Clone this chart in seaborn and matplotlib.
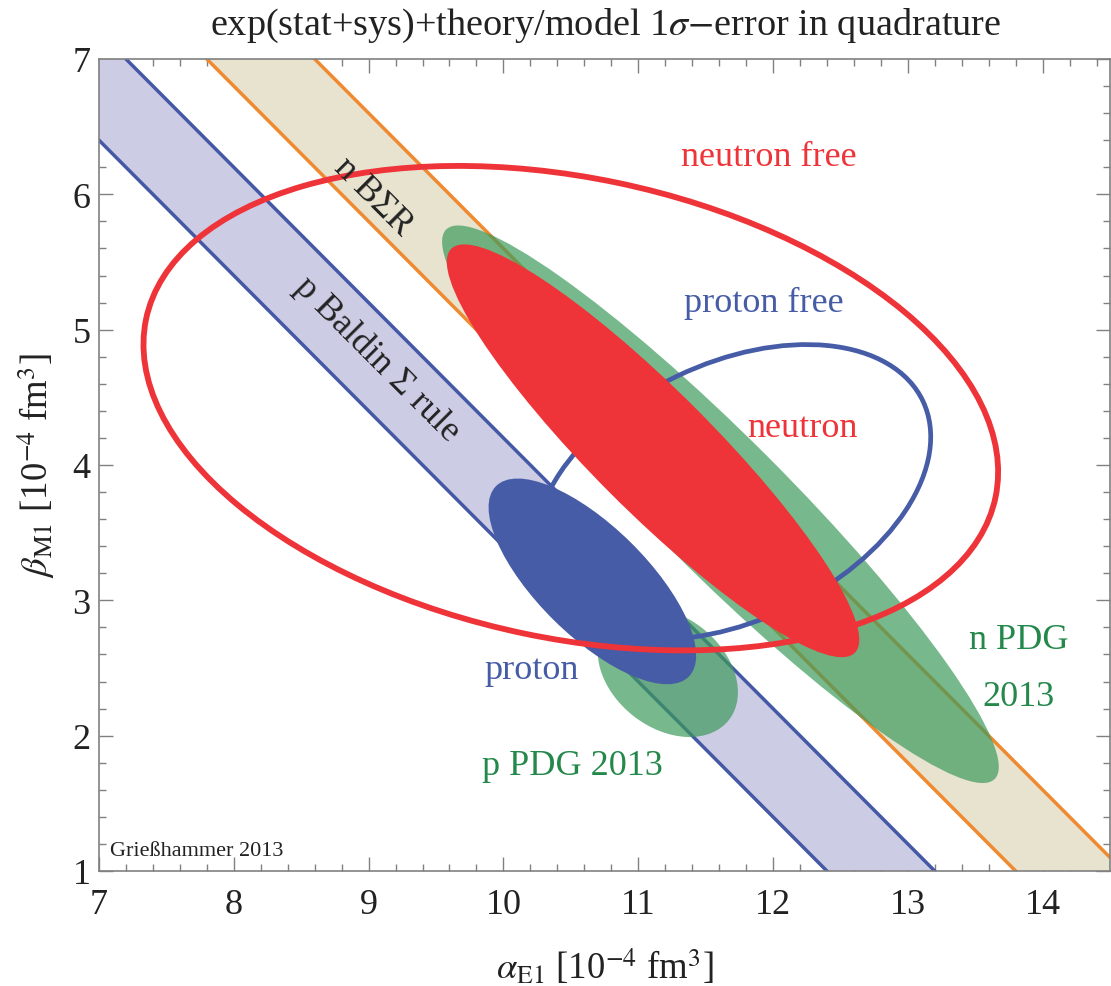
import numpy as np
import matplotlib
matplotlib.use("Agg")
import matplotlib.pyplot as plt
import seaborn as sns
import pandas as pd
from matplotlib.patches import Ellipse
from matplotlib.ticker import MultipleLocator

# ---------------- data ----------------
x_range = [7.0, 14.5]
y_range = [1.0, 7.0]

# Baldin sum rule bands: alpha + beta = centre +- half width
band_names = ["p Baldin Σ rule", "n BΣR"]
band_centre = [13.8, 15.2]
band_halfwidth = [0.4, 0.4]

# 1-sigma error ellipses (centre, sigmas, correlation)
ell_names = ["n PDG 2013", "p PDG 2013", "proton free", "neutron", "proton", "neutron free"]
ell_alpha = [11.61, 11.22, 11.70, 11.11, 10.66, 10.50]
ell_beta = [3.71, 2.47, 3.80, 4.105, 3.14, 4.42]
ell_sig_alpha = [2.065, 0.52, 1.47, 1.53, 0.77, 3.17]
ell_sig_beta = [2.06, 0.48, 1.09, 1.525, 0.76, 1.79]
ell_rho = [-0.942, -0.31, 0.374, -0.915, -0.72, -0.263]

# ---------------- styles ----------------
band_fill = ["#CDCCE5", "#E7E3CF"]
band_edge = ["#4458A6", "#F08A30"]
RED = "#EE3438"
BLUE = "#465CA6"
GREEN_FILL = "#3E9A5C"
GREEN_TXT = "#23884A"
DARK = "#222222"
ell_style = {
    "n PDG 2013": dict(fill=True, fc=GREEN_FILL, alpha=0.7, z=3),
    "p PDG 2013": dict(fill=True, fc=GREEN_FILL, alpha=0.7, z=3),
    "proton free": dict(fill=False, ec=BLUE, lw=3.4, z=4),
    "neutron": dict(fill=True, fc=RED, alpha=1.0, z=5),
    "proton": dict(fill=True, fc=BLUE, alpha=1.0, z=6),
    "neutron free": dict(fill=False, ec=RED, lw=4.2, z=7),
}

sns.set_theme(style="ticks")
plt.rcParams["font.family"] = ["Liberation Serif", "DejaVu Serif"]
plt.rcParams["mathtext.fontset"] = "stix"

W, H = 1111, 987
fig = plt.figure(figsize=(W / 100, H / 100), dpi=100)
ax = fig.add_axes([99 / W, 1 - 872 / H, (1110 - 99) / W, (872 - 60) / H])

# bands
xs = np.array(x_range)
for i, name in enumerate(band_names):
    lo = band_centre[i] - band_halfwidth[i] - xs
    hi = band_centre[i] + band_halfwidth[i] - xs
    ax.fill_between(xs, lo, hi, color=band_fill[i], lw=0, zorder=1)
    df = pd.DataFrame({"a": np.concatenate([xs, xs]),
                       "b": np.concatenate([lo, hi]),
                       "edge": ["lo"] * 2 + ["hi"] * 2})
    sns.lineplot(data=df, x="a", y="b", units="edge", estimator=None,
                 color=band_edge[i], lw=2.5, ax=ax, zorder=2, legend=False)

# ellipses
for i, name in enumerate(ell_names):
    sa, sb, r = ell_sig_alpha[i], ell_sig_beta[i], ell_rho[i]
    cov = np.array([[sa * sa, r * sa * sb], [r * sa * sb, sb * sb]])
    vals, vecs = np.linalg.eigh(cov)
    order = np.argsort(vals)[::-1]
    vals, vecs = vals[order], vecs[:, order]
    ang = np.degrees(np.arctan2(vecs[1, 0], vecs[0, 0]))
    st = ell_style[name]
    if st["fill"]:
        e = Ellipse((ell_alpha[i], ell_beta[i]), 2 * np.sqrt(vals[0]), 2 * np.sqrt(vals[1]),
                    angle=ang, facecolor=st["fc"], edgecolor="none", alpha=st["alpha"],
                    zorder=st["z"])
    else:
        e = Ellipse((ell_alpha[i], ell_beta[i]), 2 * np.sqrt(vals[0]), 2 * np.sqrt(vals[1]),
                    angle=ang, facecolor="none", edgecolor=st["ec"], lw=st["lw"],
                    zorder=st["z"])
    ax.add_patch(e)

# labels in plot
fs = 26
ax.text(11.97, 6.28, "neutron free", color=RED, fontsize=fs, ha="center", va="center", zorder=10)
ax.text(11.93, 5.20, "proton free", color=BLUE, fontsize=fs, ha="center", va="center", zorder=10)
ax.text(12.22, 4.28, "neutron", color=RED, fontsize=fs, ha="center", va="center", zorder=10)
ax.text(10.21, 2.49, "proton", color=BLUE, fontsize=fs, ha="center", va="center", zorder=10)
ax.text(10.51, 1.78, "p PDG 2013", color=GREEN_TXT, fontsize=fs, ha="center", va="center", zorder=10)
ax.text(13.82, 2.71, "n PDG", color=GREEN_TXT, fontsize=fs, ha="center", va="center", zorder=10)
ax.text(13.82, 2.29, "2013", color=GREEN_TXT, fontsize=fs, ha="center", va="center", zorder=10)
ax.text(9.06, 4.79, "p Baldin Σ rule", color=DARK, fontsize=fs, ha="center", va="center",
        rotation=-45, rotation_mode="anchor", zorder=10)
ax.text(9.03, 5.99, "n BΣR", color=DARK, fontsize=fs, ha="center", va="center",
        rotation=-45, rotation_mode="anchor", zorder=10)
ax.text(7.08, 1.12, "Grießhammer 2013", color=DARK, fontsize=16, ha="left",
        va="baseline", zorder=10)

ax.set_xlim(*x_range)
ax.set_ylim(*y_range)
ax.xaxis.set_major_locator(MultipleLocator(1))
ax.yaxis.set_major_locator(MultipleLocator(1))
ax.xaxis.set_minor_locator(MultipleLocator(0.2))
ax.yaxis.set_minor_locator(MultipleLocator(0.2))
ax.tick_params(which="both", direction="in", top=True, right=True, colors="#808080",
               labelcolor=DARK, labelsize=26, width=1.0)
ax.tick_params(which="major", length=10)
ax.tick_params(which="minor", length=5)
ax.tick_params(axis="x", which="major", pad=12)
ax.tick_params(axis="y", which="major", pad=6)
for s in ax.spines.values():
    s.set_color("#808080")
    s.set_linewidth(1.2)
    s.set_zorder(20)

ax.set_xlabel("")
ax.set_ylabel("")
fig.text(605 / W, 1 - 967 / H, r"$\alpha_{\mathrm{E1}}$ [10$^{-4}$ fm$^{3}$]", fontsize=26.5,
         color=DARK, ha="center", va="center")
fig.text(37 / W, 1 - 466 / H, r"$\beta_{\mathrm{M1}}$ [10$^{-4}$ fm$^{3}$]", fontsize=26.5,
         color=DARK, ha="center", va="center", rotation=90)
fig.text(606 / W, 1 - 26 / H, r"exp(stat+sys)+theory/model 1$\sigma{-}$error in quadrature",
         fontsize=27.5, color=DARK, ha="center", va="center")

fig.savefig("out.png", dpi=100)
